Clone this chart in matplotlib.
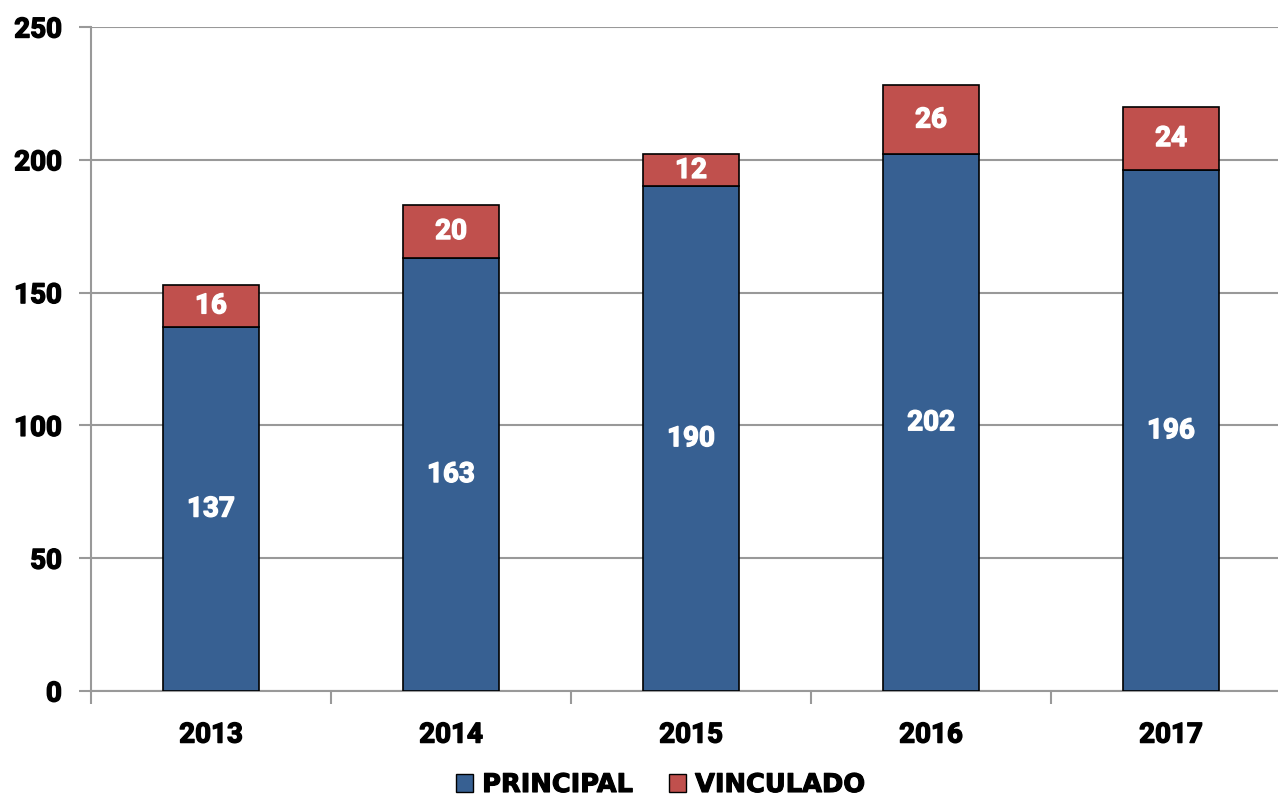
import numpy as np
import matplotlib.pyplot as plt
import matplotlib.patheffects as pe
from matplotlib.patches import Patch

years = ['2013', '2014', '2015', '2016', '2017']
principal = [137, 163, 190, 202, 196]
vinculado = [16, 20, 12, 26, 24]

blue = '#376092'
red = '#C0504D'
plt.rcParams['font.family'] = ['Roboto', 'DejaVu Sans']


def heavy(c, w=1.0):
    # thicken the bold face a bit
    return [pe.withStroke(linewidth=w, foreground=c)]


fig = plt.figure(figsize=(12.78, 7.97), dpi=100)
ax = fig.add_axes([91 / 1278, 1 - 691 / 797, 1200 / 1278, (691 - 27) / 797])

x = np.arange(len(years))
ax.bar(x, principal, width=0.4, color=blue, edgecolor='black', linewidth=1.2, zorder=3)
ax.bar(x, vinculado, width=0.4, bottom=principal, color=red, edgecolor='black', linewidth=1.2, zorder=3)

for i in range(len(years)):
    ax.text(x[i], principal[i] / 2, str(principal[i]), ha='center', va='center',
            color='white', fontsize=20, fontweight='bold', zorder=4, path_effects=heavy('white'))
    ax.text(x[i], principal[i] + vinculado[i] / 2, str(vinculado[i]), ha='center', va='center',
            color='white', fontsize=20, fontweight='bold', zorder=4, path_effects=heavy('white'))

ax.set_xlim(-0.5, 4.5)
ax.set_ylim(0, 250)
ax.set_yticks(range(0, 251, 50))
ax.yaxis.grid(True, color='#999999', linewidth=1.5, zorder=0)
ax.set_xticks(x)
ax.set_xticklabels(years)
ax.set_xticks(np.arange(-0.5, 5, 1), minor=True)
ax.tick_params(axis='x', which='major', length=0, pad=22)
ax.tick_params(axis='x', which='minor', length=9, color='#999999', width=1.5)
ax.tick_params(axis='y', length=9, color='#999999', width=1.5, pad=12)
for lab in ax.get_xticklabels() + ax.get_yticklabels():
    lab.set_fontsize(20)
    lab.set_fontweight('bold')
    lab.set_path_effects(heavy('black'))

for s in ['top', 'right']:
    ax.spines[s].set_visible(False)
for s in ['left', 'bottom']:
    ax.spines[s].set_color('#999999')
    ax.spines[s].set_linewidth(1.5)

handles = [Patch(facecolor=blue, edgecolor='black', label='PRINCIPAL'),
           Patch(facecolor=red, edgecolor='black', label='VINCULADO')]
leg = fig.legend(handles=handles, loc='center', bbox_to_anchor=(661 / 1278, 1 - 785 / 797), ncol=2,
                 frameon=False, prop={'family': 'DejaVu Sans', 'size': 18.5, 'weight': 'bold'},
                 handlelength=0.65, handleheight=0.65, handletextpad=0.35, columnspacing=1.4)
for t in leg.get_texts():
    t.set_path_effects(heavy('black', 0.8))

fig.savefig('out.png', dpi=100)
